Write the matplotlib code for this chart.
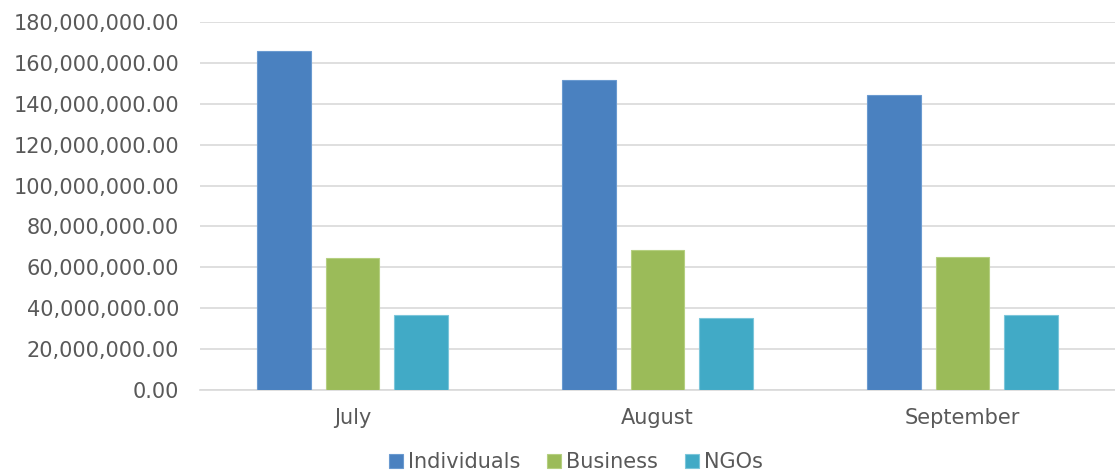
import matplotlib
matplotlib.use("Agg")
import matplotlib.pyplot as plt
import numpy as np
from matplotlib.ticker import FuncFormatter

months = ["July", "August", "September"]
series_names = ["Individuals", "Business", "NGOs"]
individuals = [165.7e6, 151.8e6, 144.1e6]
business = [64.4e6, 68.6e6, 65.0e6]
ngos = [36.9e6, 35.3e6, 36.8e6]
colors = ["#4a81c0", "#9bbb59", "#41aac6"]
edges = ["#6a9ad0", "#b5cf80", "#7cc6da"]
yticks = list(range(0, 180000001, 20000000))

plt.rcParams['font.family'] = ['DejaVu Sans']
fig = plt.figure(figsize=(11.15, 4.75), dpi=100)
ax = fig.add_axes([200/1115, (475-390)/475, 915/1115, (390-22)/475])

x = np.arange(len(months))
width = 0.177
step = 0.223
for i, (vals, name) in enumerate(zip([individuals, business, ngos], series_names)):
    ax.bar(x + (i - 1) * step, vals, width, color=colors[i], edgecolor=edges[i],
           linewidth=0.8, label=name, zorder=3)

ax.set_xlim(-0.5, 2.5)
ax.set_ylim(0, 180e6)
ax.set_yticks(yticks)
ax.yaxis.set_major_formatter(FuncFormatter(lambda v, p: f"{v:,.2f}"))
ax.set_xticks(x)
ax.set_xticklabels(months)
ax.grid(axis='y', color='#d9d9d9', linewidth=1.2, zorder=0)
for s in ['top', 'right', 'left']:
    ax.spines[s].set_visible(False)
ax.spines['bottom'].set_color('#d9d9d9')
ax.spines['bottom'].set_linewidth(1.2)
ax.tick_params(axis='both', length=0, colors='#595959', labelsize=15)
ax.tick_params(axis='y', pad=15)
ax.tick_params(axis='x', pad=13)

handles, labels = ax.get_legend_handles_labels()
fig.legend(handles, labels, loc='center', bbox_to_anchor=(576/1115, 1 - 462/475), ncol=3,
           frameon=False, fontsize=15, handlelength=0.65, handleheight=0.65,
           handletextpad=0.25, columnspacing=1.3, labelcolor='#595959')

fig.savefig("out.png", dpi=100)
